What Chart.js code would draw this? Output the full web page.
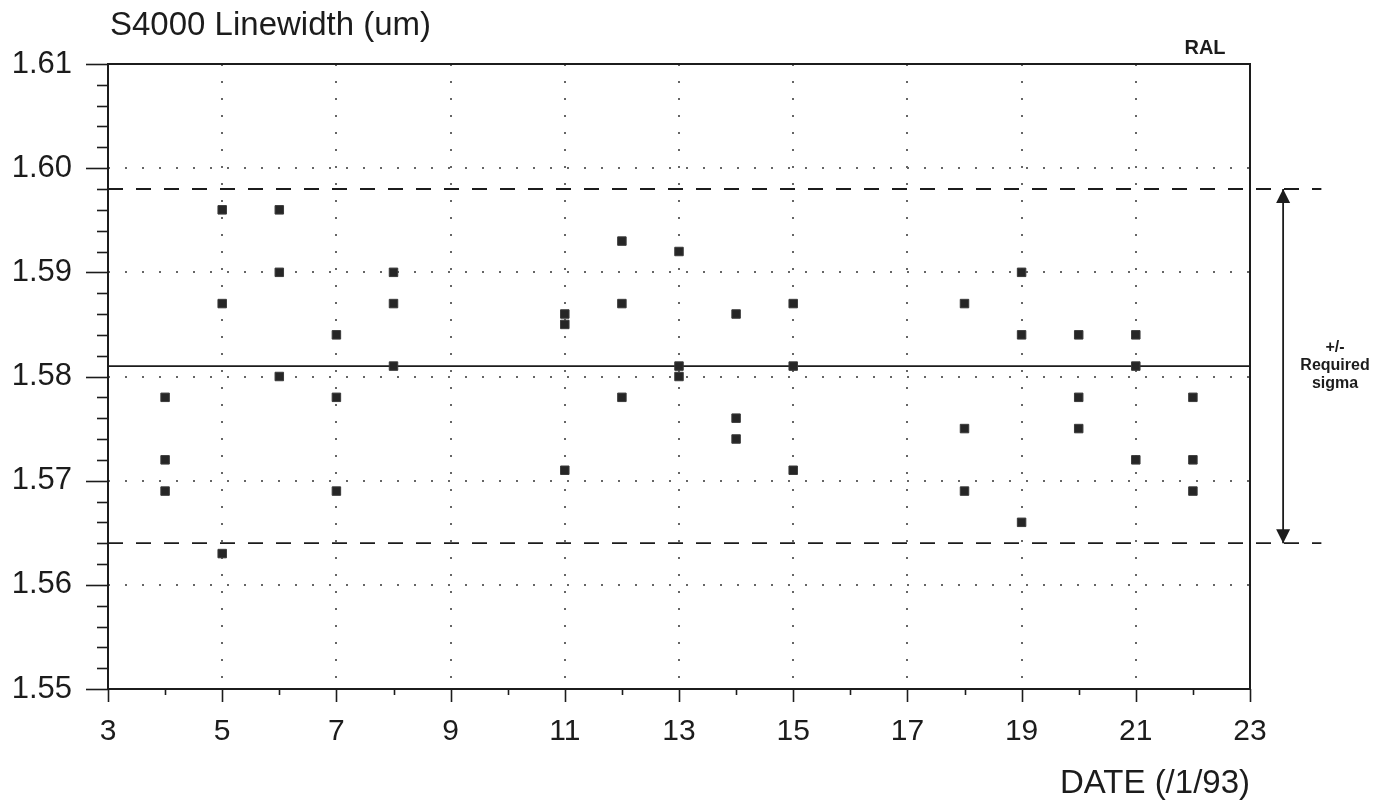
<!DOCTYPE html>
<html><head><meta charset="utf-8">
<script src="https://cdn.jsdelivr.net/npm/chart.js@4"></script>
<style>html,body{margin:0;padding:0;background:#fff}#wrap{width:1391px;height:804px;position:relative}</style>
</head><body><div id="wrap"><canvas id="c"></canvas></div>
<script>
// ---- data ----
const dates = [4, 5, 6, 7, 8, 11, 12, 13, 14, 15, 18, 19, 20, 21, 22];
const run1  = [1.578, 1.596, 1.596, 1.584, 1.590, 1.586, 1.593, 1.592, 1.586, 1.587, 1.587, 1.590, 1.584, 1.584, 1.578];
const run2  = [1.572, 1.587, 1.590, 1.578, 1.587, 1.585, 1.587, 1.581, 1.576, 1.581, 1.575, 1.584, 1.578, 1.581, 1.572];
const run3  = [1.569, 1.563, 1.580, 1.569, 1.581, 1.571, 1.578, 1.580, 1.574, 1.571, 1.569, 1.566, 1.575, 1.572, 1.569];

const xTicks = [3, 5, 7, 9, 11, 13, 15, 17, 19, 21, 23];
const xMinorTicks = [4, 6, 8, 10, 12, 14, 16, 18, 20, 22];
const yTicks = [1.55, 1.56, 1.57, 1.58, 1.59, 1.60, 1.61];
const yMinorTicks = [1.552, 1.554, 1.556, 1.558, 1.562, 1.564, 1.566, 1.568, 1.572, 1.574, 1.576, 1.578,
                     1.582, 1.584, 1.586, 1.588, 1.592, 1.594, 1.596, 1.598, 1.602, 1.604, 1.606, 1.608];

const meanLine = 1.581;
const upperLimit = 1.598;
const lowerLimit = 1.564;
const limitLineEnd = 24.25;   // dashed limit lines run past the frame
const arrowX = 23.58;         // position of the +/- sigma arrow

const titleText = 'S4000 Linewidth (um)';
const xTitleText = 'DATE (/1/93)';
const cornerText = 'RAL';
const noteLines = ['+/-', 'Required', 'sigma'];

// ---- build datasets ----
const points = [];
dates.forEach((d, i) => {
  points.push({x: d, y: run1[i]});
  points.push({x: d, y: run2[i]});
  points.push({x: d, y: run3[i]});
});

const FONT = '"Liberation Sans", Arial, Helvetica, sans-serif';
const INK = '#1c1c1c';

const decor = {
  id: 'decor',
  afterDraw(chart) {
    const {ctx, chartArea: a, scales: {x, y}} = chart;
    ctx.save();
    ctx.strokeStyle = INK;
    ctx.lineWidth = 2;
    ctx.strokeRect(a.left, a.top, a.right - a.left, a.bottom - a.top);
    const seg = (x1, y1, x2, y2) => { ctx.beginPath(); ctx.moveTo(x1, y1); ctx.lineTo(x2, y2); ctx.stroke(); };
    ctx.lineWidth = 1.6;
    yTicks.forEach(v => { const p = Math.round(y.getPixelForValue(v)) + 0.5; seg(a.left - 22, p, a.left, p); });
    yMinorTicks.forEach(v => { const p = Math.round(y.getPixelForValue(v)) + 0.5; seg(a.left - 11, p, a.left, p); });
    xTicks.forEach(v => { const p = Math.round(x.getPixelForValue(v)) + 0.5; seg(p, a.bottom, p, a.bottom + 13); });
    xMinorTicks.forEach(v => { const p = Math.round(x.getPixelForValue(v)) + 0.5; seg(p, a.bottom, p, a.bottom + 6); });

    // arrow heads
    const ax = x.getPixelForValue(arrowX);
    const yt = y.getPixelForValue(upperLimit);
    const yb = y.getPixelForValue(lowerLimit);
    ctx.fillStyle = INK;
    ctx.beginPath(); ctx.moveTo(ax, yt); ctx.lineTo(ax - 7, yt + 14); ctx.lineTo(ax + 7, yt + 14); ctx.closePath(); ctx.fill();
    ctx.beginPath(); ctx.moveTo(ax, yb); ctx.lineTo(ax - 7, yb - 14); ctx.lineTo(ax + 7, yb - 14); ctx.closePath(); ctx.fill();

    // texts
    ctx.fillStyle = INK;
    ctx.textBaseline = 'middle';
    ctx.textAlign = 'left';
    ctx.font = '33px ' + FONT;
    ctx.fillText(titleText, a.left + 2, 26);
    ctx.textAlign = 'center';
    ctx.font = 'bold 20px ' + FONT;
    ctx.fillText(cornerText, 1205, 48);
    ctx.font = 'bold 16px ' + FONT;
    const midY = (yt + yb) / 2;
    noteLines.forEach((t, i) => ctx.fillText(t, 1335, midY - 18 + i * 18));
    ctx.restore();
  }
};

const gridColor = (edgeA, edgeB) => (c) => {
  const v = c.tick ? c.tick.value : null;
  if (v === null || Math.abs(v - edgeA) < 1e-9 || Math.abs(v - edgeB) < 1e-9) return 'rgba(0,0,0,0)';
  return '#666666';
};

new Chart(document.getElementById('c'), {
  data: {
    datasets: [
      {
        type: 'scatter', data: points, order: 0,
        pointStyle: 'rect', pointRadius: 6, pointHoverRadius: 6,
        backgroundColor: '#262626', borderColor: '#3a3a3a', borderWidth: 1
      },
      {
        type: 'line', data: [{x: 3, y: upperLimit}, {x: limitLineEnd, y: upperLimit}], order: 1, clip: false,
        borderColor: INK, borderWidth: 1.8, borderDash: [15, 13], pointRadius: 0
      },
      {
        type: 'line', data: [{x: 3, y: lowerLimit}, {x: limitLineEnd, y: lowerLimit}], order: 1, clip: false,
        borderColor: INK, borderWidth: 1.8, borderDash: [15, 13], pointRadius: 0
      },
      {
        type: 'line', data: [{x: 3, y: meanLine}, {x: 23, y: meanLine}], order: 1,
        borderColor: INK, borderWidth: 1.8, pointRadius: 0
      },
      {
        type: 'line', data: [{x: arrowX, y: upperLimit}, {x: arrowX, y: lowerLimit}], order: 1, clip: false,
        borderColor: INK, borderWidth: 1.8, pointRadius: 0
      }
    ]
  },
  options: {
    responsive: true,
    maintainAspectRatio: false,
    animation: false,
    events: [],
    layout: {padding: {top: 64, right: 141, left: 0, bottom: 0}},
    plugins: {legend: {display: false}, tooltip: {enabled: false}, title: {display: false}},
    scales: {
      x: {
        type: 'linear', position: 'bottom', min: 3, max: 23,
        afterBuildTicks: s => { s.ticks = xTicks.map(v => ({value: v})); },
        afterFit: s => { s.height = 115; },
        ticks: {font: {family: FONT, size: 30}, color: INK, padding: 25, maxRotation: 0, autoSkip: false,
                callback: v => String(v)},
        grid: {drawTicks: false, color: gridColor(3, 23), lineWidth: 2},
        border: {display: false, dash: [2, 15]},
        title: {display: true, text: xTitleText, align: 'end', font: {family: FONT, size: 33}, color: INK,
                padding: {top: 0, bottom: 0}}
      },
      y: {
        type: 'linear', position: 'left', min: 1.55, max: 1.61,
        afterBuildTicks: s => { s.ticks = yTicks.map(v => ({value: v})); },
        afterFit: s => { s.width = 108; },
        ticks: {font: {family: FONT, size: 31}, color: INK, padding: 36, autoSkip: false,
                callback: v => Number(v).toFixed(2)},
        grid: {drawTicks: false, color: gridColor(1.55, 1.61), lineWidth: 2},
        border: {display: false, dash: [2, 15]}
      }
    }
  },
  plugins: [decor]
});
</script>
</body></html>
